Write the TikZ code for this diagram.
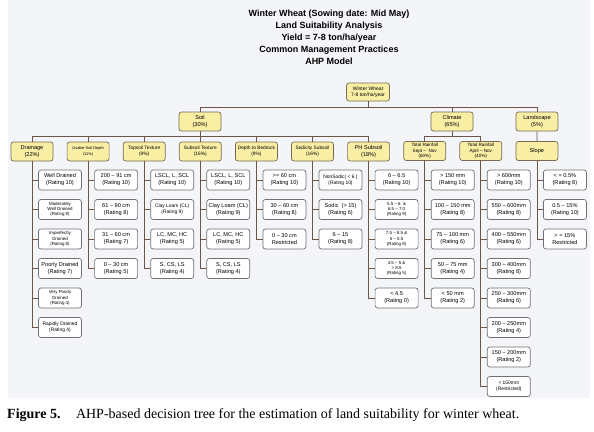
\documentclass[tikz,border=0pt]{standalone}
\usepackage{fontspec}
\setmainfont{Liberation Sans}
\newfontfamily\capfont{Liberation Serif}
\definecolor{bgcol}{HTML}{F4F5F9}
\definecolor{boxfill}{HTML}{F8EEA4}
\definecolor{boxline}{HTML}{7A6A55}
\definecolor{leafline}{HTML}{707070}
\definecolor{linecol}{HTML}{6E5548}
\tikzset{
  cat/.style={draw=boxline, fill=boxfill, rounded corners=2.5pt, minimum width=42pt,
    minimum height=19pt, inner sep=0.5pt, align=center, line width=0.7pt,
    font=\fontsize{5.6}{6.8}\selectfont},
  leaf/.style={draw=leafline, fill=white, rounded corners=2.5pt, minimum width=43pt,
    minimum height=20pt, inner sep=0.5pt, align=center, line width=0.7pt,
    font=\fontsize{5.6}{7}\selectfont},
  tiny3/.style={font=\fontsize{4.4}{5.3}\selectfont},
  sm/.style={font=\fontsize{4.9}{6.4}\selectfont},
  conn/.style={draw=linecol, line width=0.8pt},
  ttl/.style={font=\bfseries\fontsize{9}{11}\selectfont, anchor=base, inner sep=0pt}
}
\begin{document}
\begin{tikzpicture}[x=1pt,y=-1pt]
\useasboundingbox (0,0) rectangle (594,431);
\fill[bgcol] (8,0) rectangle (590,398);

% title
\node[ttl] (t1) at (329,16.5) {Winter Wheat (Sowing date: Mid May)};
\node[ttl] (t2) at (329,28.5) {Land Suitability Analysis};
\node[ttl] (t3) at (329,40.5) {Yield = 7-8 ton/ha/year};
\node[ttl] (t4) at (329,52.5) {Common Management Practices};
\node[ttl] (t5) at (329,64.5) {AHP Model};

% root and level 1
\node[cat, minimum width=43pt, minimum height=18pt, font=\fontsize{5}{6}\selectfont] (root) at (368,92) {Winter Wheat\\7-8 ton/ha/year};
\node[cat] (soil) at (200,121.5) {Soil\\(30\%)};
\node[cat] (climate) at (452,121.5) {Climate\\(65\%)};
\node[cat] (land) at (537,121.5) {Landscape\\(5\%)};

% level 2
\node[cat] (c0) at (32,151.5) {Drainage\\(22\%)};
\node[cat, font=\fontsize{3.9}{5.5}\selectfont] (c1) at (88.1,151.5) {Usable Soil Depth\\(11\%)};
\node[cat, font=\fontsize{4.8}{6.4}\selectfont] (c2) at (144.2,151.5) {Topsoil Texture\\(9\%)};
\node[cat, font=\fontsize{4.8}{6.4}\selectfont] (c3) at (200.3,151.5) {Subsoil Texture\\(16\%)};
\node[cat, font=\fontsize{4.8}{6.4}\selectfont] (c4) at (256.4,151.5) {Depth to Bedrock\\(9\%)};
\node[cat, font=\fontsize{4.8}{6.4}\selectfont] (c5) at (312.5,151.5) {Sodicity Subsoil\\(16\%)};
\node[cat] (c6) at (368.6,151.5) {PH Subsoil\\(18\%)};
\node[cat, font=\fontsize{4.6}{5.4}\selectfont] (c7) at (424.7,151) {Total Rainfall\\Sept –\ \ Nov\\(60\%)};
\node[cat, font=\fontsize{4.6}{5.4}\selectfont] (c8) at (480.8,151) {Total Rainfall\\April – Nov\\(40\%)};
\node[cat] (c9) at (536.9,151) {Slope};

% leaves: drainage
\node[leaf] (l0-1) at (60,180) {Well Drained\\(Rating 10)};
\node[leaf, tiny3] (l0-2) at (60,209.5) {Moderately\\Well Drained\\(Rating 9)};
\node[leaf, tiny3] (l0-3) at (60,239) {Imperfectly\\Drained\\(Rating 8)};
\node[leaf] (l0-4) at (60,268.5) {Poorly Drained\\(Rating 7)};
\node[leaf, tiny3] (l0-5) at (60,298) {Very Poorly\\Drained\\(Rating 4)};
\node[leaf, sm] (l0-6) at (60,327.5) {Rapidly Drained\\(Rating 4)};
% usable soil depth
\node[leaf] (l1-1) at (116.1,180) {200 – 91 cm\\(Rating 10)};
\node[leaf] (l1-2) at (116.1,209.5) {61 – 90 cm\\(Rating 8)};
\node[leaf] (l1-3) at (116.1,239) {31 – 60 cm\\(Rating 7)};
\node[leaf] (l1-4) at (116.1,268.5) {0 – 30 cm\\(Rating 5)};
% topsoil texture
\node[leaf] (l2-1) at (172.2,180) {LSCL, L, SCL\\(Rating 10)};
\node[leaf, sm] (l2-2) at (172.2,209.5) {Clay Loam (CL)\\(Rating 9)};
\node[leaf] (l2-3) at (172.2,239) {LC, MC, HC\\(Rating 5)};
\node[leaf] (l2-4) at (172.2,268.5) {S, CS, LS\\(Rating 4)};
% subsoil texture
\node[leaf] (l3-1) at (228.3,180) {LSCL, L, SCL\\(Rating 10)};
\node[leaf] (l3-2) at (228.3,209.5) {Clay Loam (CL)\\(Rating 9)};
\node[leaf] (l3-3) at (228.3,239) {LC, MC, HC\\(Rating 5)};
\node[leaf] (l3-4) at (228.3,268.5) {S, CS, LS\\(Rating 4)};
% depth to bedrock
\node[leaf] (l4-1) at (284.4,180) {>= 60 cm\\(Rating 10)};
\node[leaf] (l4-2) at (284.4,209.5) {30 – 60 cm\\(Rating 8)};
\node[leaf] (l4-3) at (284.4,239) {0 – 30 cm\\Restricted};
% sodicity
\node[leaf, sm] (l5-1) at (340.5,180) {NonSodic( < 6 )\\(Rating 10)};
\node[leaf] (l5-2) at (340.5,209.5) {Sodic\ \ (> 15)\\(Rating 6)};
\node[leaf] (l5-3) at (340.5,239) {6 – 15\\(Rating 8)};
% PH
\node[leaf] (l6-1) at (396.6,180) {6 – 6.5\\(Rating 10)};
\node[leaf, tiny3] (l6-2) at (396.6,209.5) {5.5 – 6\ \ \&\\6.5 – 7.0\\(Rating 9)};
\node[leaf, tiny3] (l6-3) at (396.6,239) {7.5 – 8.5 \&\\5 – 5.5\\(Rating 8)};
\node[leaf, tiny3] (l6-4) at (396.6,268.5) {4.5 – 5 \&\\> 8.5\\(Rating 5)};
\node[leaf] (l6-5) at (396.6,298) {< 4.5\\(Rating 0)};
% rainfall sept-nov
\node[leaf] (l7-1) at (452.7,180) {> 150 mm\\(Rating 10)};
\node[leaf] (l7-2) at (452.7,209.5) {100 – 150 mm\\(Rating 8)};
\node[leaf] (l7-3) at (452.7,239) {75 – 100 mm\\(Rating 6)};
\node[leaf] (l7-4) at (452.7,268.5) {50 – 75 mm\\(Rating 4)};
\node[leaf] (l7-5) at (452.7,298) {< 50 mm\\(Rating 2)};
% rainfall april-nov
\node[leaf] (l8-1) at (508.8,180) {> 600mm\\(Rating 10)};
\node[leaf] (l8-2) at (508.8,209.5) {550 – 600mm\\(Rating 8)};
\node[leaf] (l8-3) at (508.8,239) {400 – 550mm\\(Rating 6)};
\node[leaf] (l8-4) at (508.8,268.5) {300 – 400mm\\(Rating 8)};
\node[leaf] (l8-5) at (508.8,298) {250 – 300mm\\(Rating 6)};
\node[leaf] (l8-6) at (508.8,327.5) {200 – 250mm\\(Rating 4)};
\node[leaf] (l8-7) at (508.8,357) {150 – 200mm\\(Rating 2)};
\node[leaf, sm] (l8-8) at (508.8,386.5) {< 150mm\\(Restricted)};
% slope
\node[leaf] (l9-1) at (564.9,180) {< = 0.5\%\\(Rating 8)};
\node[leaf] (l9-2) at (564.9,209.5) {0.5 – 15\%\\(Rating 10)};
\node[leaf] (l9-3) at (564.9,239) {> = 15\%\\Restricted};

% connectors
\coordinate (j1) at (368,107);
\coordinate (j2) at (200,136);
\coordinate (j3) at (452,136);
\draw[conn] (root.south) -- (j1);
\draw[conn] (soil.north) -- (soil.north |- j1) -- (land.north |- j1) -- (land.north);
\draw[conn] (climate.north) -- (climate.north |- j1);
\draw[conn] (soil.south) -- (j2);
\draw[conn] (c0.north) -- (c0.north |- j2) -- (c6.north |- j2) -- (c6.north);
\foreach \c in {1,...,5} \draw[conn] (c\c.north) -- (c\c.north |- j2);
\draw[conn] (climate.south) -- (j3);
\draw[conn] (c7.north) -- (c7.north |- j3) -- (c8.north |- j3) -- (c8.north);
\draw[conn] (land.south) -- (c9.north);
\foreach \c/\n in {0/6,1/4,2/4,3/4,4/3,5/3,6/5,7/5,8/8,9/3}
  \foreach \r in {1,...,\n}
    \draw[conn] (c\c.south) |- (l\c-\r.west);

% caption
\node[anchor=base west, inner sep=0pt, font=\capfont\fontsize{14}{16}\selectfont] (cap) at (7,418)
  {\textbf{Figure 5.}\hspace{1.1em}AHP-based decision tree for the estimation of land suitability for winter wheat.};
\end{tikzpicture}
\end{document}
